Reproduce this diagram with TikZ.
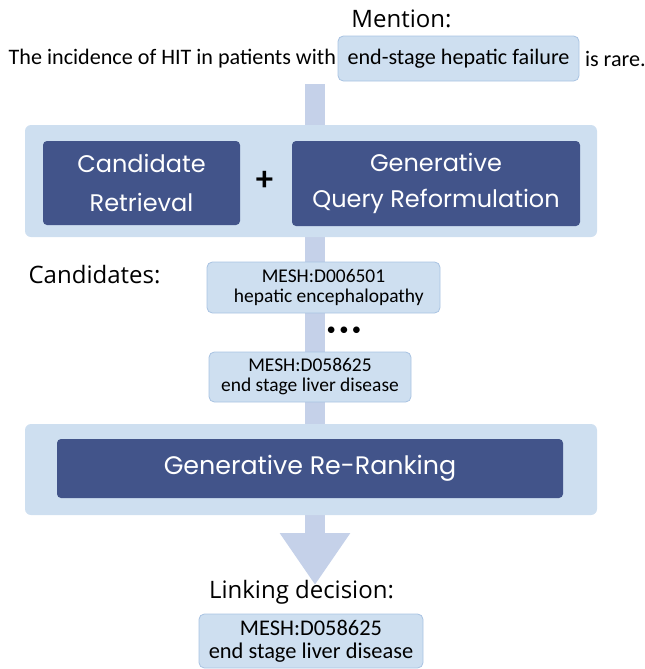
\documentclass[tikz,border=0pt]{standalone}
\usepackage{fontspec}
\setmainfont{Carlito}
\newfontfamily\headfont{Open Sans}
\newfontfamily\boxfont{Poppins}
\usetikzlibrary{arrows.meta}
\definecolor{panelblue}{HTML}{CEDFF0}
\definecolor{edgeblue}{HTML}{A9C3E2}
\definecolor{barblue}{HTML}{C5D1E9}
\definecolor{darkbox}{HTML}{42548A}
\tikzset{
  panel/.style={fill=panelblue,draw=none,rounded corners=4.5pt},
  lightbox/.style={fill=panelblue,draw=edgeblue,line width=0.6pt,rounded corners=4pt,align=center,inner sep=0pt},
  darkstep/.style={fill=darkbox,draw=none,rounded corners=3pt,text=white,align=center,inner sep=0pt},
  heading/.style={font=\headfont\fontsize{18}{22}\selectfont}
}
\begin{document}
\begin{tikzpicture}[x=0.75pt,y=-0.75pt]
\useasboundingbox (0,0) rectangle (645,669);
  % flow bar behind everything
  \coordinate (flowtop) at (315,84);
  \coordinate (flowtip) at (315,585);
  \draw[barblue,line width=15pt,-{Triangle[width=50.25pt,length=39pt]}] (flowtop) -- (flowtip);
  % Mention
  \node[heading] (mentionlbl) at (401.5,19) {Mention:};
  \node[lightbox,minimum width=180.75pt,minimum height=33.75pt,font=\fontsize{16.6}{19}\selectfont] (mention) at (458.5,58.5) {end-stage hepatic failure};
  \node[anchor=east,inner sep=1pt,font=\fontsize{16.6}{19}\selectfont] (before) at (mention.west) {The incidence of HIT in patients with};
  \node[anchor=west,inner sep=4pt,font=\fontsize{16.6}{19}\selectfont] (after) at (mention.east) {is rare.};
  % upper panel
  \node[panel,minimum width=429pt,minimum height=84pt] (toppanel) at (311,181) {};
  \node[darkstep,minimum width=147.75pt,minimum height=63pt,font=\boxfont\fontsize{18}{29}\selectfont] (retrieval) at (141.5,183) {Candidate\\Retrieval};
  \node[darkstep,minimum width=216pt,minimum height=63.75pt,font=\boxfont\fontsize{18}{27}\selectfont] (reform) at (436,183.5) {Generative\\Query Reformulation};
  \node[font=\bfseries\fontsize{26}{26}\selectfont] (plus) at (264.5,181) {+};
  % candidates
  \node[heading] (candlbl) at (94.5,275) {Candidates:};
  \node[lightbox,minimum width=174.75pt,minimum height=38.25pt,font=\fontsize{14.6}{15}\selectfont] (cand1) at (323.5,287.5) {MESH:D006501\\\hspace*{8pt}hepatic encephalopathy};
  \node[font=\fontsize{14}{14}\selectfont] (dots) at (344,331) {\textbullet\hspace{2.5pt}\textbullet\hspace{2.5pt}\textbullet};
  \node[lightbox,minimum width=151.5pt,minimum height=37.5pt,font=\fontsize{14.6}{15}\selectfont] (cand2) at (310,377) {MESH:D058625\\end stage liver disease};
  % lower panel
  \node[panel,minimum width=429pt,minimum height=68.25pt] (botpanel) at (311,469.5) {};
  \node[darkstep,minimum width=379.5pt,minimum height=44.25pt,font=\boxfont\fontsize{19}{27}\selectfont] (rerank) at (310,468.5) {Generative Re-Ranking};
  % decision
  \node[heading] (declbl) at (301.5,592) {Linking decision:};
  \node[lightbox,minimum width=168pt,minimum height=40.5pt,font=\fontsize{16.8}{17}\selectfont] (decision) at (311,641) {MESH:D058625\\end stage liver disease};
\end{tikzpicture}
\end{document}
